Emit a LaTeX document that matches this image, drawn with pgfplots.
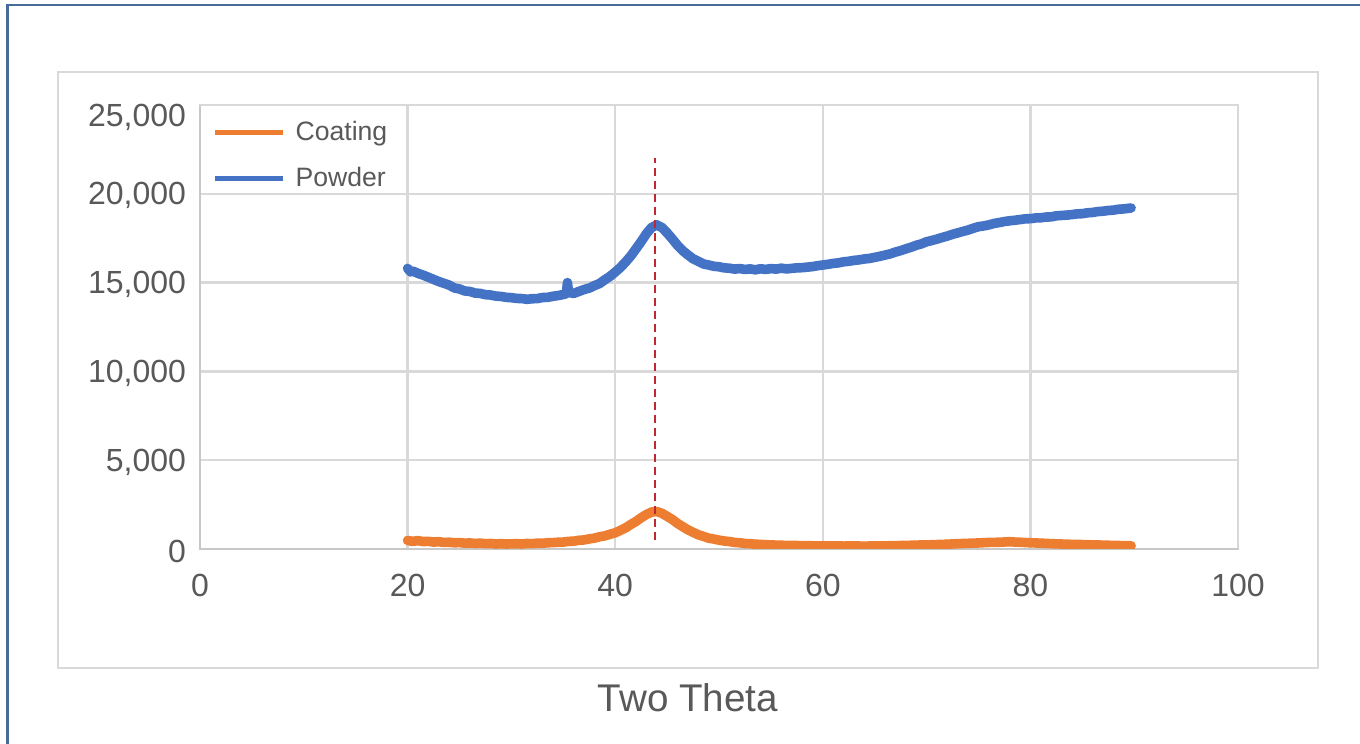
\documentclass[border=0pt]{standalone}
\usepackage{pgfplots}
\pgfplotsset{compat=1.18}
\usepackage{fontspec}
\setmainfont{Liberation Sans}

\definecolor{txtgray}{RGB}{89,89,89}
\definecolor{gridgray}{RGB}{217,217,217}
\definecolor{axgray}{RGB}{200,200,200}
\definecolor{xlorange}{RGB}{237,125,49}
\definecolor{xlblue}{RGB}{68,114,196}
\definecolor{framecol}{RGB}{72,108,152}
\definecolor{peakred}{RGB}{192,40,48}

\begin{document}
\begin{tikzpicture}
    \useasboundingbox[fill=white] (0,0) rectangle (680bp,372bp);
    % chart frame (runs off the right and bottom edge)
    \draw[framecol, line width=1.1bp] (3.75bp,0) -- (3.75bp,369.5bp) -- (690bp,369.5bp);
    % inner plot-area box
    \draw[gridgray, line width=1.3bp] (29bp,38bp) rectangle (659bp,336bp);

    \begin{axis}[
            at={(100bp,97.5bp)}, anchor=south west,
            scale only axis,
            width=519bp, height=222bp,
            xmin=0, xmax=100, ymin=0, ymax=25000,
            xtick={0,20,...,100},
            ytick={0,5000,...,20000},
            extra y ticks={25000},
            extra y tick style={grid=major, yticklabel style={yshift=-5bp}},
            major tick length=0pt,
            axis lines*=left,
            axis line style={axgray, line width=1.3bp},
            grid=major,
            major grid style={gridgray, line width=1.2bp},
            /pgf/number format/assume math mode=true,
            /pgf/number format/1000 sep={,},
            scaled y ticks=false,
            tick label style={font=\fontsize{16bp}{19bp}\selectfont, text=txtgray},
            xticklabel style={yshift=-9bp},
            yticklabel style={xshift=-3.5bp, yshift=-1bp},
            xlabel={Two Theta},
            xlabel style={font=\fontsize{19.3bp}{22bp}\selectfont, text=txtgray,
                at={(axis description cs:0.47,-0.3356)}, anchor=center},
            legend style={at={(0,1)}, anchor=north west, draw=none, fill=none,
                font=\fontsize{13.3bp}{16bp}\selectfont, text=txtgray,
                inner xsep=6bp, inner ysep=6bp,
                row sep=8bp,
                /tikz/every odd column/.append style={column sep=3bp}},
            legend cell align=left,
            legend image code/.code={\draw[#1, line width=2.6bp] (0bp,0bp) -- (34bp,0bp);},
            line join=round, line cap=round,
        ]
        \addplot[xlorange, line width=4.8bp] coordinates {
            (20,480) (20.5,430) (21,470) (21.5,420) (22,430) (22.5,390) (23,410) (23.5,370)
            (24,380) (24.5,350) (25,360) (25.5,330) (26,340) (26.5,310) (27,330) (27.5,300)
            (28,310) (28.5,280) (29,300) (29.5,280) (30,290) (30.5,300) (31,280) (31.5,310)
            (32,300) (32.5,330) (33,320) (33.5,350) (34,360) (34.5,380) (35,390) (35.5,430)
            (36,440) (36.5,490) (37,510) (37.5,570) (38,610) (38.5,690) (39,740) (39.5,830)
            (40,910) (40.5,1050) (41,1190) (41.5,1380) (42,1550) (42.5,1760) (43,1940)
            (43.5,2080) (44,2110) (44.5,2010) (45,1840) (45.5,1660) (46,1440) (46.5,1260)
            (47,1080) (47.5,940) (48,800) (48.5,710) (49,610) (49.5,560) (50,500) (50.5,450)
            (51,420) (51.5,370) (52,350) (52.5,310) (53,300) (53.5,270) (54,260) (54.5,240)
            (55,230) (56,210) (57,200) (58,190) (59,180) (60,170) (61,180) (62,165) (63,175)
            (64,160) (65,175) (66,175) (67,190) (68,200) (69,220) (70,230) (71,250) (72,270)
            (73,300) (74,320) (75,340) (76,370) (77,380) (78,410) (78.5,390) (79,380)
            (80,350) (81,330) (82,300) (83,280) (84,260) (85,250) (86,230) (87,220) (88,200)
            (89,190) (89.7,180)
        };
        \addlegendentry{Coating}
        \addplot[xlblue, line width=4.8bp] coordinates {
            (20,15800) (20.3,15600) (20.5,15650) (21,15520) (21.5,15420) (22,15300)
            (22.5,15180) (23,15060) (23.5,14960) (24,14860) (24.5,14700) (25,14640)
            (25.5,14530) (26,14500) (26.5,14410) (27,14390) (27.5,14320) (28,14300)
            (28.5,14240) (29,14220) (29.5,14170) (30,14150) (30.5,14110) (31,14100)
            (31.5,14060) (32,14090) (32.5,14100) (33,14160) (33.5,14170) (34,14230)
            (34.5,14270) (35,14330) (35.3,14380) (35.4,15000) (35.5,14450) (36,14390)
            (36.5,14500) (37,14610) (37.5,14690) (38,14830) (38.5,14950) (39,15160)
            (39.5,15350) (40,15590) (40.5,15850) (41,16160) (41.5,16500) (42,16900)
            (42.5,17310) (43,17750) (43.5,18100) (44,18250) (44.5,18100) (45,17800)
            (45.5,17460) (46,17100) (46.5,16800) (47,16560) (47.5,16340) (48,16200)
            (48.5,16050) (49,15990) (49.5,15920) (50,15890) (50.5,15830) (51,15810)
            (51.5,15760) (52,15790) (52.5,15740) (53,15770) (53.5,15720) (54,15780)
            (54.5,15740) (55,15790) (55.5,15760) (56,15810) (56.5,15770) (57,15800)
            (57.5,15830) (58,15840) (58.5,15870) (59,15900) (59.5,15950) (60,15990)
            (60.5,16030) (61,16080) (61.5,16110) (62,16170) (62.5,16200) (63,16250)
            (63.5,16280) (64,16330) (64.5,16360) (65,16420) (65.5,16480) (66,16550)
            (66.5,16620) (67,16720) (67.5,16800) (68,16900) (68.5,16990) (69,17100)
            (69.5,17180) (70,17300) (70.5,17370) (71,17450) (71.5,17540) (72,17620)
            (72.5,17720) (73,17800) (73.5,17880) (74,17960) (74.5,18060) (75,18150)
            (75.5,18190) (76,18250) (76.5,18330) (77,18380) (77.5,18440) (78,18480)
            (78.5,18510) (79,18550) (79.5,18590) (80,18600) (80.5,18640) (81,18650)
            (81.5,18690) (82,18700) (82.5,18760) (83,18780) (83.5,18800) (84,18830)
            (84.5,18870) (85,18880) (85.5,18930) (86,18950) (86.5,19000) (87,19020)
            (87.5,19060) (88,19080) (88.5,19130) (89,19150) (89.7,19200)
        };
        \addlegendentry{Powder}
        % peak position marker
        \addplot[peakred, line width=1bp, dash pattern=on 4bp off 2.5bp, line cap=butt,
            forget plot] coordinates {(43.8,500) (43.8,22000)};
    \end{axis}
\end{tikzpicture}
\end{document}
